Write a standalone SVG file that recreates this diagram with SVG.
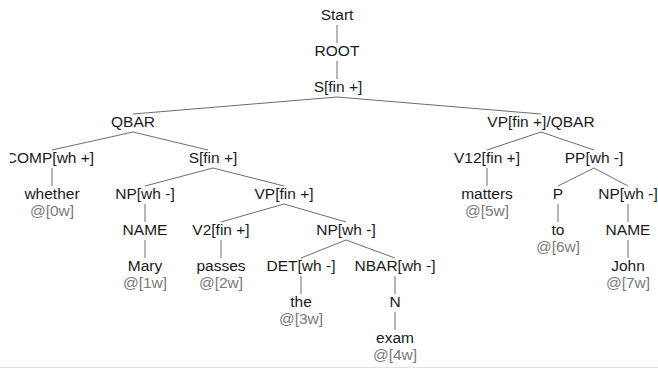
<svg xmlns="http://www.w3.org/2000/svg" width="658" height="369" viewBox="0 0 658 369">
  <style>
    .lbl { font-family: "Liberation Sans", Arial, sans-serif; font-size: 15.5px; fill: #1a1a1a; text-anchor: middle; }
    .idx { font-family: "Liberation Sans", Arial, sans-serif; font-size: 15.5px; fill: #7a7a7a; text-anchor: middle; }
    .edge { stroke: #6e6e6e; stroke-width: 1; fill: none; }
  </style>
  <defs>
    <clipPath id="view">
      <rect x="10" y="0" width="648" height="369"/>
    </clipPath>
  </defs>
  <rect x="0" y="0" width="658" height="369" fill="#ffffff"/>
  <g clip-path="url(#view)">
    <!-- tree branches -->
    <g id="connectors" class="edge">
      <line x1="337" y1="25" x2="337" y2="43"/>
      <line x1="337" y1="61" x2="337" y2="79"/>
      <line x1="337" y1="97" x2="133" y2="114"/>
      <line x1="337" y1="97" x2="541" y2="114"/>
      <line x1="133" y1="132" x2="52" y2="150"/>
      <line x1="133" y1="132" x2="208" y2="150"/>
      <line x1="541" y1="132" x2="487" y2="150"/>
      <line x1="541" y1="132" x2="594" y2="150"/>
      <line x1="52" y1="168" x2="52" y2="186"/>
      <line x1="213" y1="168" x2="145" y2="186"/>
      <line x1="213" y1="168" x2="284" y2="186"/>
      <line x1="487" y1="168" x2="487" y2="186"/>
      <line x1="594" y1="168" x2="558" y2="186"/>
      <line x1="594" y1="168" x2="628" y2="186"/>
      <line x1="145" y1="204" x2="145" y2="222"/>
      <line x1="284" y1="204" x2="221" y2="222"/>
      <line x1="284" y1="204" x2="346" y2="222"/>
      <line x1="558" y1="204" x2="558" y2="222"/>
      <line x1="628" y1="204" x2="628" y2="222"/>
      <line x1="145" y1="240" x2="145" y2="258"/>
      <line x1="221" y1="240" x2="221" y2="258"/>
      <line x1="346" y1="240" x2="301" y2="258"/>
      <line x1="346" y1="240" x2="395" y2="258"/>
      <line x1="628" y1="240" x2="628" y2="258"/>
      <line x1="301" y1="276" x2="301" y2="294"/>
      <line x1="395" y1="276" x2="395" y2="294"/>
      <line x1="395" y1="312" x2="395" y2="330"/>
    </g>

    <g id="node-start"><text class="lbl" x="337" y="20">Start</text></g>
    <g id="node-root"><text class="lbl" x="337" y="56">ROOT</text></g>
    <g id="node-s"><text class="lbl" x="338" y="92">S[fin +]</text></g>
    <g id="node-qbar"><text class="lbl" x="133" y="127">QBAR</text></g>
    <g id="node-vp-qbar"><text class="lbl" x="541" y="127">VP[fin +]/QBAR</text></g>
    <g id="node-comp"><text class="lbl" x="50" y="163">COMP[wh +]</text></g>
    <g id="node-s2"><text class="lbl" x="213" y="163">S[fin +]</text></g>
    <g id="node-v12"><text class="lbl" x="487" y="163">V12[fin +]</text></g>
    <g id="node-pp"><text class="lbl" x="594" y="163">PP[wh -]</text></g>
    <g id="node-whether"><text class="lbl" x="52" y="199">whether</text><text class="idx" x="52" y="216">@[0w]</text></g>
    <g id="node-np1"><text class="lbl" x="145" y="199">NP[wh -]</text></g>
    <g id="node-vp"><text class="lbl" x="284" y="199">VP[fin +]</text></g>
    <g id="node-matters"><text class="lbl" x="487" y="199">matters</text><text class="idx" x="487" y="216">@[5w]</text></g>
    <g id="node-p"><text class="lbl" x="558" y="199">P</text></g>
    <g id="node-np3"><text class="lbl" x="628" y="199">NP[wh -]</text></g>
    <g id="node-name1"><text class="lbl" x="145" y="235">NAME</text></g>
    <g id="node-v2"><text class="lbl" x="221" y="235">V2[fin +]</text></g>
    <g id="node-np2"><text class="lbl" x="346" y="235">NP[wh -]</text></g>
    <g id="node-to"><text class="lbl" x="558" y="235">to</text><text class="idx" x="558" y="252">@[6w]</text></g>
    <g id="node-name2"><text class="lbl" x="628" y="235">NAME</text></g>
    <g id="node-mary"><text class="lbl" x="145" y="271">Mary</text><text class="idx" x="145" y="288">@[1w]</text></g>
    <g id="node-passes"><text class="lbl" x="221" y="271">passes</text><text class="idx" x="221" y="288">@[2w]</text></g>
    <g id="node-det"><text class="lbl" x="301" y="271">DET[wh -]</text></g>
    <g id="node-nbar"><text class="lbl" x="395" y="271">NBAR[wh -]</text></g>
    <g id="node-john"><text class="lbl" x="628" y="271">John</text><text class="idx" x="628" y="288">@[7w]</text></g>
    <g id="node-the"><text class="lbl" x="301" y="307">the</text><text class="idx" x="301" y="324">@[3w]</text></g>
    <g id="node-n"><text class="lbl" x="395" y="307">N</text></g>
    <g id="node-exam"><text class="lbl" x="395" y="343">exam</text><text class="idx" x="395" y="360">@[4w]</text></g>
  </g>
  <line x1="0" y1="367.5" x2="658" y2="367.5" stroke="#e2e2e2" stroke-width="1"/>
</svg>
